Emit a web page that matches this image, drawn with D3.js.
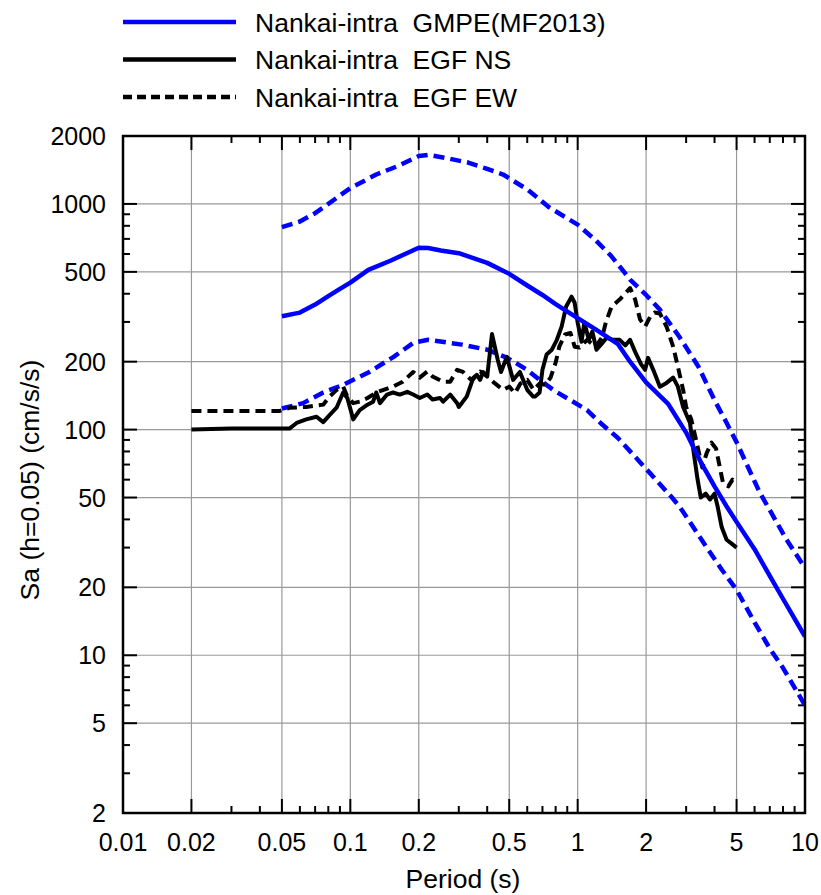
<!DOCTYPE html>
<html><head><meta charset="utf-8">
<script src="https://cdn.jsdelivr.net/npm/d3@7"></script>
<style>
html,body{margin:0;padding:0;background:#fff;}
text{font-family:"Liberation Sans",Arial,Helvetica,sans-serif;fill:#000;}
</style></head>
<body><svg id="chart" width="821" height="895"></svg>
<script>
// ---- data ----
const xTickValues = [0.01,0.02,0.05,0.1,0.2,0.5,1,2,5,10];
const xTickLabels = ["0.01","0.02","0.05","0.1","0.2","0.5","1","2","5","10"];
const yTickValues = [2,5,10,20,50,100,200,500,1000,2000];
const yTickLabels = ["2","5","10","20","50","100","200","500","1000","2000"];

const gmpePeriod = [0.05,0.06,0.07,0.08,0.09,0.1,0.12,0.15,0.2,0.22,0.25,0.3,0.4,0.5,0.6,0.7,0.8,1.0,1.2,1.5,1.7,2.0,2.5,3.0,3.5,4.0,4.5,5.0,6.0,7.0,8.0,10.0];
const gmpeMedian = [318,330,358,390,420,448,510,560,640,638,622,605,548,490,435,395,360,312,278,240,200,162,130,97,71,56,46,39,29.5,22.5,17.8,12.1];

const upperPeriod = [0.05,0.06,0.07,0.08,0.09,0.1,0.13,0.16,0.2,0.22,0.27,0.33,0.4,0.47,0.6,0.75,1.0,1.2,1.4,1.6,1.7,2.0,2.3,2.8,3.4,4.0,4.5,5.0,6.3,8.3,10.0];
const upperValue  = [790,836,910,1000,1090,1175,1350,1465,1630,1650,1590,1525,1430,1350,1160,965,810,690,590,500,462,395,340,258,190,135,108,88,53,32.5,24.4];

const lowerPeriod = [0.05,0.062,0.076,0.093,0.12,0.155,0.19,0.22,0.31,0.4,0.49,0.6,0.68,0.78,1.1,1.26,1.5,2.0,2.6,2.81,3.7,4.3,5.0,6.0,7.0,8.0,10.0];
const lowerValue  = [124,131,146,158,179,210,243,250,238,226,208,184,166,150,122,107,92,67,50,45.5,30,24,19.5,14,10.7,8.8,6];

const nsPeriod = [0.02,0.03,0.04,0.054,0.058,0.064,0.071,0.076,0.081,0.087,0.093,0.097,0.103,0.11,0.119,0.126,0.13,0.135,0.145,0.154,0.165,0.178,0.189,0.202,0.218,0.23,0.248,0.256,0.275,0.295,0.30,0.325,0.345,0.36,0.372,0.384,0.40,0.42,0.445,0.46,0.488,0.52,0.557,0.60,0.637,0.65,0.68,0.70,0.73,0.77,0.81,0.85,0.89,0.94,0.97,1.0,1.04,1.07,1.12,1.16,1.21,1.28,1.34,1.43,1.53,1.62,1.70,1.79,1.90,1.98,2.04,2.15,2.30,2.46,2.63,2.76,2.91,3.12,3.24,3.37,3.48,3.66,3.82,4.0,4.12,4.30,4.52,4.8,5.0];
const nsValue  = [100,101,101,101,107,111,114,108,116,125,146,138,111,122,129,133,146,131,143,146,143,147,143,138,143,136,138,133,143,131,126,140,166,175,166,180,172,265,204,180,210,166,180,150,140,140,146,184,215,226,250,286,351,388,365,298,245,298,250,272,226,241,255,250,250,236,250,221,195,184,208,184,155,161,170,155,126,107,79,60,50,52,49,52,46,37,32.5,31,30];

const ewPeriod = [0.02,0.03,0.04,0.049,0.054,0.064,0.076,0.081,0.087,0.093,0.097,0.103,0.11,0.119,0.13,0.14,0.154,0.17,0.189,0.202,0.218,0.23,0.256,0.275,0.295,0.313,0.34,0.372,0.4,0.43,0.47,0.5,0.53,0.56,0.6,0.64,0.68,0.72,0.76,0.8,0.83,0.88,0.93,0.97,1.02,1.1,1.2,1.28,1.33,1.41,1.53,1.65,1.70,1.79,1.88,1.98,2.08,2.18,2.30,2.46,2.63,2.76,2.91,3.0,3.16,3.37,3.53,3.70,3.88,4.06,4.22,4.36,4.6,4.8,5.0];
const ewValue  = [121,121,121,121,125,126,129,140,150,155,140,131,133,138,146,150,155,163,180,170,181,172,163,163,184,180,166,181,172,161,150,155,145,160,166,150,160,158,170,198,233,264,268,233,231,250,233,256,298,351,377,410,424,377,308,286,315,330,327,286,233,190,150,126,111,84,68,79,87.5,82.5,68,58,56,60,58];

// ---- layout ----
const svg = d3.select("#chart");
const L = 123, R = 805, T = 136, B = 813;
const x = d3.scaleLog().domain([0.01,10]).range([L,R]);
const y = d3.scaleLog().domain([2,2000]).range([B,T]);

svg.append("defs").append("clipPath").attr("id","clip")
  .append("rect").attr("x",L).attr("y",T).attr("width",R-L).attr("height",B-T);

// minor tick values
const xMinor = [], yMinor = [];
[0.01,0.1,1].forEach(d=>{for(let k=2;k<=9;k++){const v=d*k; if(!xTickValues.some(t=>Math.abs(t/v-1)<1e-6)) xMinor.push(v);}});
[1,10,100,1000].forEach(d=>{for(let k=2;k<=9;k++){const v=d*k; if(v>2&&v<2000&&!yTickValues.some(t=>Math.abs(t/v-1)<1e-6)) yMinor.push(v);}});

// grid
const grid = svg.append("g").attr("stroke","#999").attr("stroke-width",1.2);
xTickValues.filter(v=>v>0.01&&v<10).forEach(v=>{
  grid.append("line").attr("x1",x(v)).attr("x2",x(v)).attr("y1",T).attr("y2",B);
});
yTickValues.filter(v=>v>2&&v<2000).forEach(v=>{
  grid.append("line").attr("x1",L).attr("x2",R).attr("y1",y(v)).attr("y2",y(v));
});

// ticks (inward on all 4 sides)
const tk = svg.append("g").attr("stroke","#000").attr("stroke-width",2);
const majL = 14, minL = 7;
xTickValues.forEach(v=>{
  tk.append("line").attr("x1",x(v)).attr("x2",x(v)).attr("y1",B).attr("y2",B-majL);
  tk.append("line").attr("x1",x(v)).attr("x2",x(v)).attr("y1",T).attr("y2",T+majL);
});
xMinor.forEach(v=>{
  tk.append("line").attr("x1",x(v)).attr("x2",x(v)).attr("y1",B).attr("y2",B-minL);
  tk.append("line").attr("x1",x(v)).attr("x2",x(v)).attr("y1",T).attr("y2",T+minL);
});
yTickValues.forEach(v=>{
  tk.append("line").attr("y1",y(v)).attr("y2",y(v)).attr("x1",L).attr("x2",L+majL);
  tk.append("line").attr("y1",y(v)).attr("y2",y(v)).attr("x1",R).attr("x2",R-majL);
});
yMinor.forEach(v=>{
  tk.append("line").attr("y1",y(v)).attr("y2",y(v)).attr("x1",L).attr("x2",L+minL);
  tk.append("line").attr("y1",y(v)).attr("y2",y(v)).attr("x1",R).attr("x2",R-minL);
});

// tick labels
xTickValues.forEach((v,i)=>{
  svg.append("text").attr("x",x(v)).attr("y",851).attr("text-anchor","middle")
    .attr("font-size",25).text(xTickLabels[i]);
});
yTickValues.forEach((v,i)=>{
  svg.append("text").attr("x",106).attr("y",y(v)+9).attr("text-anchor","end")
    .attr("font-size",25).text(yTickLabels[i]);
});

// axis titles
svg.append("text").attr("x",463).attr("y",888).attr("text-anchor","middle")
  .attr("font-size",26.5).text("Period (s)");
svg.append("text").attr("transform","translate(39,480) rotate(-90)").attr("text-anchor","middle")
  .attr("font-size",26.5).text("Sa (h=0.05) (cm/s/s)");

// lines
const line = d3.line().x(d=>x(d[0])).y(d=>y(d[1]));
const plot = svg.append("g").attr("clip-path","url(#clip)").attr("fill","none")
  .attr("stroke-linejoin","round");
const zip = (a,b)=>a.map((p,i)=>[p,b[i]]);

plot.append("path").attr("d",line(zip(upperPeriod,upperValue)))
  .attr("stroke","#0000ff").attr("stroke-width",4.5).attr("stroke-dasharray","11,6");
plot.append("path").attr("d",line(zip(lowerPeriod,lowerValue)))
  .attr("stroke","#0000ff").attr("stroke-width",4.5).attr("stroke-dasharray","11,6");
plot.append("path").attr("d",line(zip(ewPeriod,ewValue)))
  .attr("stroke","#000").attr("stroke-width",4).attr("stroke-dasharray","10,6");
plot.append("path").attr("d",line(zip(nsPeriod,nsValue)))
  .attr("stroke","#000").attr("stroke-width",4);
plot.append("path").attr("d",line(zip(gmpePeriod,gmpeMedian)))
  .attr("stroke","#0000ff").attr("stroke-width",4.5);

// frame
svg.append("rect").attr("x",L).attr("y",T).attr("width",R-L).attr("height",B-T)
  .attr("fill","none").attr("stroke","#000").attr("stroke-width",2.5);

// legend
const legendItems = [
  {label:"Nankai-intra  GMPE(MF2013)", color:"#0000ff", dash:null, w:4.5},
  {label:"Nankai-intra  EGF NS", color:"#000", dash:null, w:4.5},
  {label:"Nankai-intra  EGF EW", color:"#000", dash:"9,5", w:4.5}
];
legendItems.forEach((d,i)=>{
  const ly = 22 + i*37.5;
  svg.append("line").attr("x1",123).attr("x2",236).attr("y1",ly).attr("y2",ly)
    .attr("stroke",d.color).attr("stroke-width",d.w).attr("stroke-dasharray",d.dash);
  svg.append("text").attr("x",255).attr("y",ly+9.5).attr("font-size",26.5)
    .attr("xml:space","preserve").style("white-space","pre").text(d.label);
});
</script></body></html>
